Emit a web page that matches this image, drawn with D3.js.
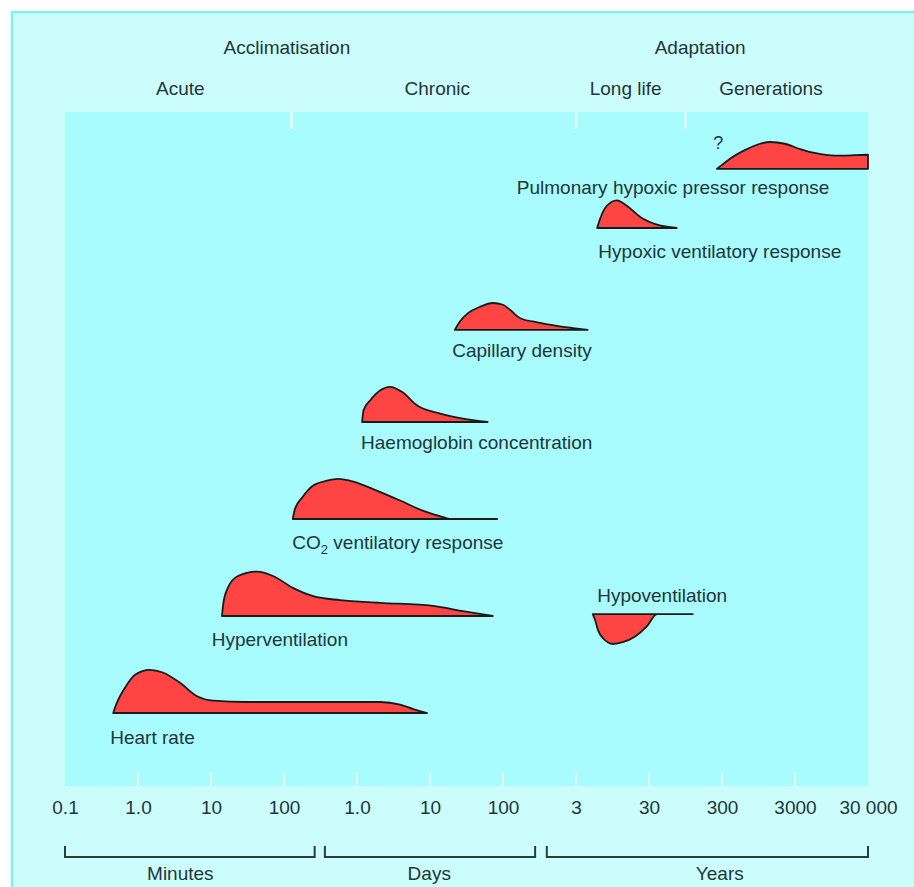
<!DOCTYPE html>
<html><head><meta charset="utf-8">
<script src="https://cdn.jsdelivr.net/npm/d3@7"></script>
<style>
html,body{margin:0;padding:0;background:#fff;}
text{font-family:"Liberation Sans",Arial,sans-serif;fill:#1f3539;}
</style></head>
<body><svg id="c" width="914" height="887"></svg>
<script>
// ---------- data ----------
const tickLabels = ["0.1","1.0","10","100","1.0","10","100","3","30","300","3000","30 000"];
const unitNames = ["Minutes","Days","Years"];
const unitSpans = [[0,3.42],[3.56,6.44],[6.6,11]];
const unitLabelPos = [1.58,4.99,8.97];
const stageNames = ["Acute","Chronic","Long life","Generations"];
const stagePos = [1.58,5.1,7.68,9.67];
const stageDividers = [3.1,7.0,8.5];
const phaseNames = ["Acclimatisation","Adaptation"];
const phasePos = [3.04,8.7];

const responseNames = ["Pulmonary hypoxic pressor response","Hypoxic ventilatory response","Capillary density",
  "Haemoglobin concentration","CO2 ventilatory response","Hyperventilation","Hypoventilation","Heart rate"];
const responseLevel = [5.61,5,3.95,3,2,1,1.02,0];
// [time position (axis index), magnitude 0-10]
const phpr = [[8.93,0],[9.0,0.9],[9.11,2.3],[9.32,4.3],[9.52,5.7],[9.66,6.1],[9.86,5.7],[10.07,4.5],[10.27,3.6],[10.55,3.0],[10.82,3.1],[11,3.2]];
const hvr = [[7.29,0],[7.33,2.1],[7.42,5.0],[7.56,6.3],[7.70,5.0],[7.88,2.5],[8.11,0.75],[8.38,0]];
const capillary = [[5.34,0],[5.41,1.9],[5.52,3.8],[5.68,5.2],[5.86,6.1],[6.0,5.7],[6.10,4.5],[6.23,2.7],[6.47,1.7],[6.74,0.9],[6.96,0.4],[7.16,0]];
const haemoglobin = [[4.07,0],[4.09,2.7],[4.18,4.9],[4.32,7.2],[4.45,8.0],[4.62,6.8],[4.82,3.8],[5.14,1.9],[5.45,0.75],[5.79,0]];
const co2 = [[3.12,0],[3.15,2.3],[3.25,4.9],[3.40,7.6],[3.59,8.7],[3.74,9.1],[3.95,8.5],[4.22,6.8],[4.59,4.2],[4.90,1.9],[5.18,0.4],[5.27,0],[5.92,0]];
const hyperventilation = [[2.15,0],[2.17,3.0],[2.23,6.4],[2.37,9.1],[2.63,10.1],[2.85,9.1],[3.12,6.4],[3.40,4.5],[3.77,3.6],[4.32,3.0],[5.04,2.3],[5.45,1.1],[5.86,0]];
const hypoventilation = [[7.23,0],[7.26,-1.3],[7.30,-3.6],[7.37,-5.5],[7.51,-6.8],[7.64,-6.4],[7.81,-5.1],[7.97,-2.8],[8.11,0],[8.60,0]];
const heartRate = [[0.66,0],[0.71,2.3],[0.82,5.7],[0.96,8.7],[1.16,9.8],[1.34,9.2],[1.58,6.8],[1.81,3.8],[2.03,2.8],[2.49,2.5],[4.32,2.5],[4.59,1.9],[4.77,0.9],[4.96,0]];
const profiles = [phpr,hvr,capillary,haemoglobin,co2,hyperventilation,hypoventilation,heartRate];

// ---------- layout ----------
const W=914,H=887;
const plot={left:65,right:868,top:112,bottom:786};
const svg=d3.select("#c");
const x=d3.scaleLinear().domain([0,11]).range([plot.left,plot.right]);
const yLevel=d3.scaleLinear().domain([0,5]).range([713,228]);
const mag=d3.scaleLinear().domain([0,10]).range([0,44]);

// panel
svg.append("rect").attr("x",12).attr("y",12).attr("width",W).attr("height",H)
  .attr("fill","#ccfdfd").attr("stroke","#86eef0").attr("stroke-width",2.5);
svg.append("rect").attr("x",plot.left).attr("y",plot.top).attr("width",plot.right-plot.left).attr("height",plot.bottom-plot.top)
  .attr("fill","#a8fcfe");

// bottom axis
const ax=d3.axisBottom(x).tickValues(d3.range(0,12)).tickFormat(i=>tickLabels[i]).tickSize(0).tickPadding(0);
const gAx=svg.append("g").attr("transform",`translate(0,${plot.bottom})`).call(ax);
gAx.select(".domain").remove();
gAx.selectAll("text").attr("font-size",19).attr("dy",null).attr("y",28).style("font-family","'Liberation Sans',Arial,sans-serif").attr("fill","#1f3539");
// small white ticks inside plot
svg.append("g").selectAll("line").data(d3.range(1,11)).join("line")
  .attr("x1",d=>x(d)).attr("x2",d=>x(d)).attr("y1",plot.bottom-13).attr("y2",plot.bottom)
  .attr("stroke","#e6ffff").attr("stroke-width",2);
svg.append("g").selectAll("line").data(stageDividers).join("line")
  .attr("x1",d=>x(d)).attr("x2",d=>x(d)).attr("y1",plot.top).attr("y2",plot.top+17)
  .attr("stroke","#e6ffff").attr("stroke-width",2.5);

// unit brackets
const by=857;
const gB=svg.append("g").attr("stroke","#2b3b3e").attr("stroke-width",2).attr("fill","none");
unitSpans.forEach(s=>{
  gB.append("path").attr("d",`M${x(s[0])},${by-11}V${by}H${x(s[1])}V${by-11}`);
});
svg.append("g").selectAll("text").data(unitNames).join("text")
  .attr("x",(d,i)=>x(unitLabelPos[i])).attr("y",880).attr("text-anchor","middle").attr("font-size",19).text(d=>d);

// header texts
svg.append("g").selectAll("text").data(phaseNames).join("text")
  .attr("x",(d,i)=>x(phasePos[i])).attr("y",54).attr("text-anchor","middle").attr("font-size",19).text(d=>d);
svg.append("g").selectAll("text").data(stageNames).join("text")
  .attr("x",(d,i)=>x(stagePos[i])).attr("y",95).attr("text-anchor","middle").attr("font-size",19).text(d=>d);

// response shapes
const gS=svg.append("g");
profiles.forEach((p,i)=>{
  const base=yLevel(responseLevel[i]);
  const area=d3.area().x(d=>x(d[0])).y0(base).y1(d=>base-mag(d[1])).curve(d3.curveMonotoneX);
  gS.append("path").attr("d",area(p)).attr("fill","#ff4444").attr("stroke","#1a1a1a")
    .attr("stroke-width",1.8).attr("stroke-linejoin","round");
});

// labels (layout: axis position, offset from baseline, anchor)
const labelLayout=[[8.33,24,"middle"],[8.97,29,"middle"],[6.26,26,"middle"],[5.64,26,"middle"],
  [4.56,29,"middle"],[2.01,29,"start"],[8.18,-13,"middle"],[0.62,30,"start"]];
const gL=svg.append("g");
responseNames.forEach((n,i)=>{
  const L=labelLayout[i];
  const t=gL.append("text").attr("x",x(L[0])).attr("y",yLevel(responseLevel[i])+L[1]+1)
    .attr("text-anchor",L[2]).attr("font-size",19);
  if(n.startsWith("CO2")){
    t.append("tspan").text("CO");
    t.append("tspan").attr("font-size",13).attr("dy",5).text("2");
    t.append("tspan").attr("dy",-5).text(" ventilatory response");
  } else t.text(n);
});
gL.append("text").attr("x",x(8.95)).attr("y",yLevel(responseLevel[0])-20).attr("text-anchor","middle").attr("font-size",18).text("?");
</script></body></html>
